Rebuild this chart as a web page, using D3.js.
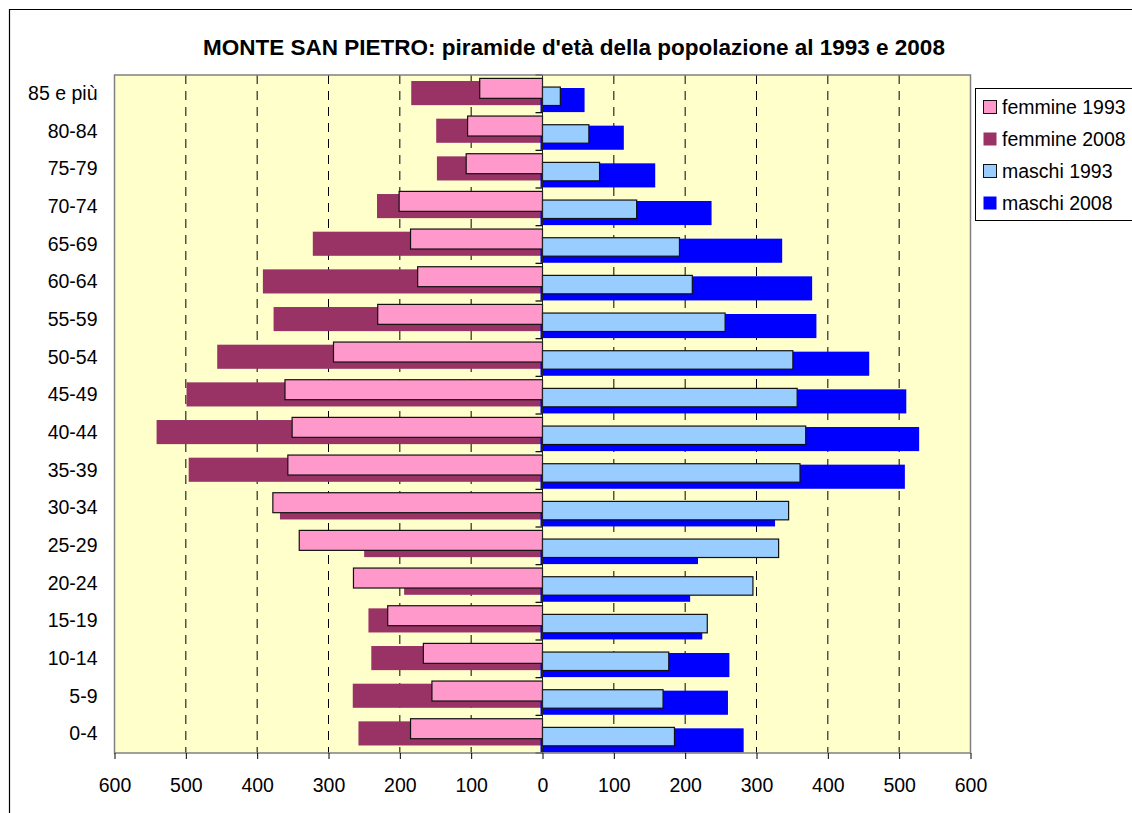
<!DOCTYPE html>
<html>
<head>
<meta charset="utf-8">
<script src="https://cdn.jsdelivr.net/npm/d3@7"></script>
<style>
  body { margin: 0; background: #fff; }
  svg { display: block; font-family: "Liberation Sans", Arial, sans-serif; }
</style>
</head>
<body>
<svg id="chart" width="1132" height="813"></svg>
<script>
// age classes, top to bottom
const ages = ["85 e più", "80-84", "75-79", "70-74", "65-69", "60-64", "55-59", "50-54", "45-49",
  "40-44", "35-39", "30-34", "25-29", "20-24", "15-19", "10-14", "5-9", "0-4"];
const femmine1993 = [88, 105, 107, 201, 185, 175, 231, 293, 361, 351, 357, 378, 341, 265, 217, 167, 155, 185];
const femmine2008 = [184, 149, 148, 232, 322, 392, 377, 456, 499, 541, 496, 368, 250, 194, 244, 240, 266, 258];
const maschi1993 = [25, 65, 80, 132, 192, 210, 256, 351, 357, 369, 361, 345, 331, 295, 231, 177, 169, 185];
const maschi2008 = [59, 114, 158, 237, 336, 378, 384, 458, 510, 528, 508, 326, 218, 207, 224, 262, 260, 282];
const xTicks = [-600, -500, -400, -300, -200, -100, 0, 100, 200, 300, 400, 500, 600];
const legendLabels = ["femmine 1993", "femmine 2008", "maschi 1993", "maschi 2008"];

const colors = { f93: "#FF99CC", f08: "#993366", m93: "#99CCFF", m08: "#0000FF" };

const svg = d3.select("#chart");
const plotL = 114.5, plotR = 970.5, plotT = 75, plotB = 753;
const labelFont = 19.5;

const x = d3.scaleLinear().domain([-600, 600]).range([plotL, plotR]);
const y = d3.scaleBand().domain(ages).range([plotT, plotB]);
const bw = y.bandwidth();

// outer chart frame
svg.append("path")
  .attr("d", `M9.5,${813} V9.5 H1140`)
  .attr("fill", "none").attr("stroke", "#000").attr("stroke-width", 1.2);

svg.append("text")
  .attr("x", 574).attr("y", 55)
  .attr("text-anchor", "middle")
  .attr("font-size", 22.5).attr("font-weight", "bold")
  .text("MONTE SAN PIETRO: piramide d'età della popolazione al 1993 e 2008");

// plot area
svg.append("rect")
  .attr("x", plotL).attr("y", plotT)
  .attr("width", plotR - plotL).attr("height", plotB - plotT)
  .attr("fill", "#FFFFCC");

// dashed gridlines
svg.append("g")
  .selectAll("line")
  .data(xTicks.filter(d => d !== 0 && Math.abs(d) !== 600))
  .join("line")
  .attr("x1", d => x(d)).attr("x2", d => x(d))
  .attr("y1", plotT).attr("y2", plotB)
  .attr("stroke", "#000").attr("stroke-width", 1)
  .attr("stroke-dasharray", "9,7");

const rows = ages.map((a, i) => ({
  age: a, f93: femmine1993[i], f08: femmine2008[i], m93: maschi1993[i], m08: maschi2008[i]
}));

// 2008 bars (behind)
svg.append("g").selectAll("rect")
  .data(rows).join("rect")
  .attr("x", d => x(-d.f08)).attr("y", d => y(d.age) + bw * 0.16)
  .attr("width", d => x(0) - x(-d.f08)).attr("height", bw * 0.64)
  .attr("fill", colors.f08);

svg.append("g").selectAll("rect")
  .data(rows).join("rect")
  .attr("x", x(0) - 2).attr("y", d => y(d.age) + bw * 0.345)
  .attr("width", d => x(d.m08) - x(0) + 2).attr("height", bw * 0.64)
  .attr("fill", colors.m08);

// 1993 bars (front, outlined)
svg.append("g").selectAll("rect")
  .data(rows).join("rect")
  .attr("x", d => x(-d.f93)).attr("y", d => y(d.age) + bw * 0.09)
  .attr("width", d => x(0) - x(-d.f93)).attr("height", bw * 0.53)
  .attr("fill", colors.f93).attr("stroke", "#111").attr("stroke-width", 1.2);

svg.append("g").selectAll("rect")
  .data(rows).join("rect")
  .attr("x", x(0)).attr("y", d => y(d.age) + bw * 0.32)
  .attr("width", d => x(d.m93) - x(0)).attr("height", bw * 0.49)
  .attr("fill", colors.m93).attr("stroke", "#111").attr("stroke-width", 1.2);

// centre axis with category ticks
svg.append("line")
  .attr("x1", x(0)).attr("x2", x(0)).attr("y1", plotT).attr("y2", plotB)
  .attr("stroke", "#222").attr("stroke-width", 1);
svg.append("g").selectAll("line")
  .data(d3.range(ages.length + 1))
  .join("line")
  .attr("x1", x(0) - 7).attr("x2", x(0))
  .attr("y1", i => plotT + i * bw).attr("y2", i => plotT + i * bw)
  .attr("stroke", "#000").attr("stroke-width", 1.2);

// plot border
svg.append("rect")
  .attr("x", plotL).attr("y", plotT)
  .attr("width", plotR - plotL).attr("height", plotB - plotT)
  .attr("fill", "none").attr("stroke", "#808080").attr("stroke-width", 1.5);

// x axis
svg.append("g")
  .attr("transform", `translate(0,${plotB})`)
  .call(d3.axisBottom(x).tickValues(xTicks).tickFormat(d => Math.abs(d)).tickSize(6).tickPadding(19))
  .call(g => g.select(".domain").remove())
  .call(g => g.selectAll(".tick line").attr("stroke", "#000"))
  .call(g => g.selectAll("text").attr("font-size", labelFont).attr("fill", "#000")
    .attr("font-family", "Liberation Sans, Arial, sans-serif"));

// y labels
svg.append("g")
  .attr("transform", `translate(${plotL},0)`)
  .call(d3.axisLeft(y).tickSize(0).tickPadding(17))
  .call(g => g.select(".domain").remove())
  .call(g => g.selectAll("text").attr("font-size", labelFont).attr("fill", "#000")
    .attr("font-family", "Liberation Sans, Arial, sans-serif"));

// legend
const lg = svg.append("g");
lg.append("rect")
  .attr("x", 975.5).attr("y", 88.5).attr("width", 200).attr("height", 132)
  .attr("fill", "#fff").attr("stroke", "#000").attr("stroke-width", 1);
const swatch = [colors.f93, colors.f08, colors.m93, colors.m08];
const outlined = [true, false, true, false];
legendLabels.forEach((label, i) => {
  const cy = 107 + i * 32;
  lg.append("rect")
    .attr("x", 983.5).attr("y", cy - 6.5).attr("width", 13).attr("height", 13)
    .attr("fill", swatch[i])
    .attr("stroke", outlined[i] ? "#111" : "none");
  lg.append("text")
    .attr("x", 1002).attr("y", cy + 7)
    .attr("font-size", 19.5)
    .text(label);
});
</script>
</body>
</html>
